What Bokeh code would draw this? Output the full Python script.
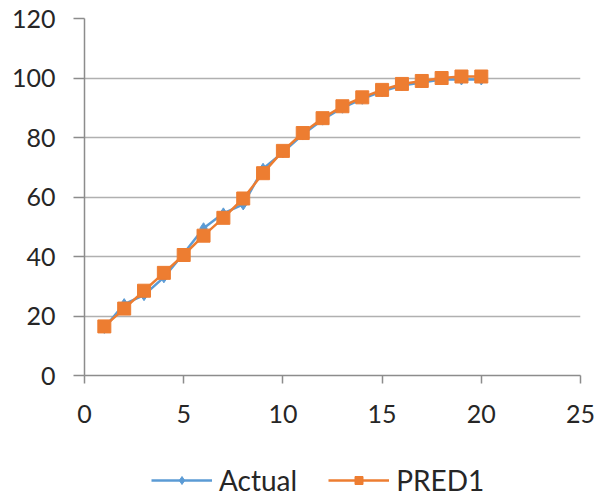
from bokeh.plotting import figure
from bokeh.layouts import column
from bokeh.models import Range1d, FixedTicker, Legend, LegendItem
from bokeh.embed import file_html
from bokeh.resources import INLINE

x_vals = list(range(1, 21))
actual = [16, 24, 27, 33, 41, 49.5, 54.5, 57.5, 69.5, 75, 81, 86, 90, 93, 95.5, 97.5, 98.5, 99.5, 99.5, 99.5]
pred1 = [16.5, 22.5, 28.5, 34.5, 40.5, 47, 53, 59.5, 68, 75.5, 81.5, 86.5, 90.5, 93.5, 96, 98, 99, 100, 100.5, 100.5]
x_ticks = [0, 5, 10, 15, 20, 25]
y_ticks = [0, 20, 40, 60, 80, 100, 120]
series_names = ["Actual", "PRED1"]

FONT = "Lato"
AX = "#8c8c8c"
TXT = "#262626"
BLUE = "#5b9bd5"
ORANGE = "#ed7d31"

p = figure(width=606, height=430, output_backend="svg", toolbar_location=None,
           x_range=Range1d(0, 25), y_range=Range1d(0, 120),
           min_border_left=84, min_border_right=26, min_border_top=18, min_border_bottom=55)
p.outline_line_color = None
p.xgrid.grid_line_color = None
p.ygrid.grid_line_color = "#b0b0b0"
p.ygrid.grid_line_width = 1.5

for ax in (p.xaxis, p.yaxis):
    ax.axis_line_color = AX
    ax.axis_line_width = 1.5
    ax.major_tick_line_color = AX
    ax.major_tick_line_width = 1.5
    ax.minor_tick_line_color = None
    ax.major_tick_in = 0
    ax.major_label_text_font = FONT
    ax.major_label_text_font_size = "25px"
    ax.major_label_text_color = TXT

p.xaxis.ticker = FixedTicker(ticks=x_ticks)
p.yaxis.ticker = FixedTicker(ticks=y_ticks)
p.xaxis.major_tick_out = 8
p.yaxis.major_tick_out = 11
p.xaxis.major_label_standoff = 21
p.yaxis.major_label_standoff = 18

p.line(x_vals, actual, line_color=BLUE, line_width=2.5)
p.scatter(x_vals, actual, marker="diamond", size=11, fill_color=BLUE, line_color=BLUE)
p.line(x_vals, pred1, line_color=ORANGE, line_width=2.5)
p.scatter(x_vals, pred1, marker="square", size=13, fill_color=ORANGE, line_color=ORANGE)

# legend strip below the chart (its series lie outside its visible range)
q = figure(width=606, height=68, output_backend="svg", toolbar_location=None,
           x_axis_type=None, y_axis_type=None, min_border=0,
           x_range=Range1d(-2, -1), y_range=Range1d(-2, -1))
q.outline_line_color = None
q.grid.visible = False
la = q.line(x_vals, actual, line_color=BLUE, line_width=2.5)
sa = q.scatter(x_vals, actual, marker="diamond", size=11, fill_color=BLUE, line_color=BLUE)
lp = q.line(x_vals, pred1, line_color=ORANGE, line_width=2.5)
sp = q.scatter(x_vals, pred1, marker="square", size=12, fill_color=ORANGE, line_color=ORANGE)

legend = Legend(items=[LegendItem(label=series_names[0], renderers=[la, sa]),
                       LegendItem(label=series_names[1], renderers=[lp, sp])],
                orientation="horizontal", location=(67, 1),
                glyph_width=61, glyph_height=20, spacing=31, padding=0, margin=0,
                label_standoff=7,
                label_text_font=FONT, label_text_font_size="28px",
                label_text_color=TXT, border_line_color=None,
                background_fill_alpha=0)
q.add_layout(legend, "center")

open("out.html", "w").write(file_html(column(p, q, spacing=0), INLINE))
